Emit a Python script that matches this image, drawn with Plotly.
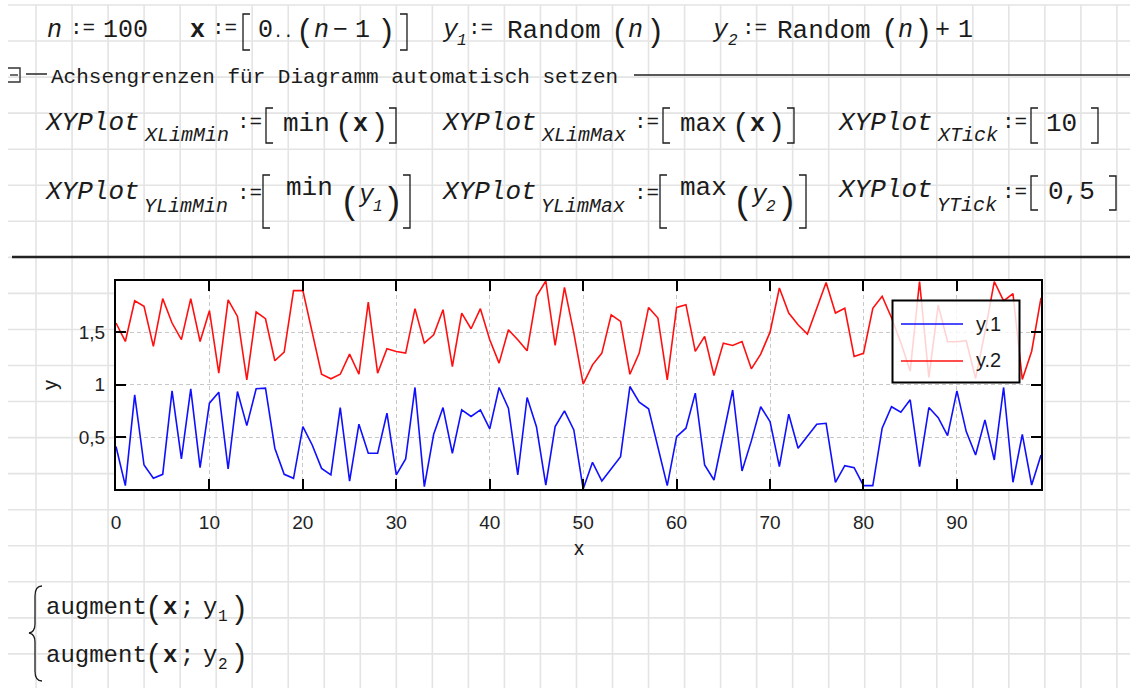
import plotly.graph_objects as go

# ---------------- data ----------------
x_vals = list(range(100))
y1_vals = [0.41, 0.037, 0.903, 0.234, 0.107, 0.145, 0.942, 0.292, 0.961, 0.209,
           0.824, 0.929, 0.196, 0.935, 0.61, 0.961, 0.967, 0.394, 0.145, 0.107,
           0.60, 0.425, 0.202, 0.139, 0.782, 0.081, 0.623, 0.346, 0.346, 0.728,
           0.139, 0.292, 0.974, 0.027, 0.527, 0.782, 0.346, 0.76, 0.697, 0.76,
           0.579, 0.974, 0.776, 0.139, 0.878, 0.60, 0.043, 0.60, 0.75, 0.569,
           0.005, 0.26, 0.081, 0.202, 0.314, 0.983, 0.834, 0.77, 0.394, 0.037,
           0.505, 0.585, 0.92, 0.234, 0.091, 0.52, 0.95, 0.177, 0.464, 0.79,
           0.648, 0.218, 0.719, 0.394, 0.505, 0.623, 0.632, 0.069, 0.228, 0.209,
           0.037, 0.037, 0.585, 0.79, 0.738, 0.856, 0.218, 0.782, 0.686, 0.514,
           0.942, 0.553, 0.33, 0.665, 0.282, 0.974, 0.069, 0.527, 0.043, 0.33]
y2_vals = [1.589, 1.413, 1.802, 1.748, 1.366, 1.822, 1.589, 1.43, 1.822, 1.413,
           1.707, 1.11, 1.81, 1.652, 1.047, 1.694, 1.63, 1.229, 1.311, 1.898,
           1.898, 1.5, 1.10, 1.057, 1.10, 1.292, 1.10, 1.789, 1.11, 1.343,
           1.318, 1.302, 1.726, 1.397, 1.477, 1.716, 1.174, 1.684, 1.534, 1.726,
           1.429, 1.206, 1.525, 1.429, 1.324, 1.844, 1.99, 1.375, 1.93, 1.493,
           1.005, 1.19, 1.302, 1.668, 1.605, 1.10, 1.302, 1.738, 1.636, 1.047,
           1.738, 1.764, 1.318, 1.461, 1.088, 1.397, 1.375, 1.413, 1.152, 1.292,
           1.502, 1.923, 1.684, 1.573, 1.483, 1.73, 1.975, 1.684, 1.73, 1.27,
           1.30, 1.73, 1.845, 1.64, 1.40, 1.13, 1.985, 1.07, 1.76, 1.41,
           1.41, 1.42, 1.06, 1.5, 1.985, 1.80, 1.87, 1.05, 1.32, 1.83]
series_names = ["y.1", "y.2"]
x_tick_vals = [0, 10, 20, 30, 40, 50, 60, 70, 80, 90]
x_tick_labels = ["0", "10", "20", "30", "40", "50", "60", "70", "80", "90"]
y_tick_vals = [0.5, 1.0, 1.5]
y_tick_labels = ["0,5", "1", "1,5"]

# ---------------- geometry helpers (pixel -> paper) ----------------
FW, FH = 1130, 688
L, R, T, B = 116, 1041, 281, 489
W, H = R - L, B - T


def px(x):
    return (x - L) / W


def py(y):
    return (B - y) / H


MONO = "Liberation Mono, Courier New, monospace"
SANS = "Liberation Sans, Arial, sans-serif"
TXT = "#1b1b1b"
annotations = []
shapes = []


def txt(x, y, s, size=25, it=False, bd=False, fam=MONO, color=TXT, anchor="left", angle=0):
    if it:
        s = f"<i>{s}</i>"
    if bd:
        s = f"<b>{s}</b>"
    annotations.append(dict(x=px(x), y=py(y), xref="paper", yref="paper", text=s,
                            showarrow=False, xanchor=anchor, yanchor="middle",
                            textangle=angle, borderpad=0,
                            font=dict(family=fam, size=size, color=color)))


def path(points_cmds, color, width, layer="below", fill=None):
    s = " ".join(points_cmds)
    d = dict(type="path", path=s, xref="paper", yref="paper",
             line=dict(color=color, width=width), layer=layer)
    if fill:
        d["fillcolor"] = fill
    shapes.append(d)


def P(cmd, x, y):
    return f"{cmd} {px(x):.5f},{py(y):.5f}"


def C(x, y):
    return f"{px(x):.5f},{py(y):.5f}"


def line(x0, y0, x1, y1, color=TXT, width=1.3, layer="below"):
    path([P("M", x0, y0), P("L", x1, y1)], color, width, layer)


def lbr(x, y0, y1):
    path([P("M", x + 7, y0), P("L", x, y0), P("L", x, y1), P("L", x + 7, y1)], TXT, 1.3)


def rbr(x, y0, y1):
    path([P("M", x - 7, y0), P("L", x, y0), P("L", x, y1), P("L", x - 7, y1)], TXT, 1.3)


# ---------------- worksheet grid ----------------
grid_cmds = []
k = 1
while 36.03 * k < FW:
    gx = 36.03 * k
    grid_cmds += [P("M", gx, 5), P("L", gx, FH)]
    k += 1
k = 0
while 5 + 36.05 * k < FH:
    gy = 5 + 36.05 * k
    grid_cmds += [P("M", 8, gy), P("L", FW, gy)]
    k += 1
path(grid_cmds, "#e4e4e4", 1.6)
# white plot background over the grid
shapes.append(dict(type="rect", xref="paper", yref="paper", x0=0, x1=1, y0=0, y1=1,
                   fillcolor="white", line=dict(width=0), layer="below"))

# separators
line(634, 75, FW, 75, color="#222", width=1.6)
line(12, 257, FW, 257, color="#222", width=2.4)
# collapse icon
path([P("M", 8, 68), P("L", 20, 68), P("L", 20, 82), P("L", 8, 82)], "#333", 1.4)
line(10, 75, 18, 75, color="#333", width=1.4)
line(26, 74, 47, 74, color="#333", width=1.6)

# ---------------- worksheet text ----------------
# row 1
txt(46, 31, "n", 25, it=True)
txt(69, 29, ":=", 21)
txt(102, 31, "100", 25)
txt(189, 31, "x", 25, bd=True)
txt(211, 29, ":=", 21)
lbr(243, 14, 50)
txt(257, 31, "0", 25)
txt(272, 33, "..", 17)
txt(298, 31, "(", 31, fam=SANS)
txt(313, 31, "n", 25, it=True)
txt(332, 31, "−", 25)
txt(354, 31, "1", 25)
txt(381, 31, ")", 31, fam=SANS)
rbr(407, 14, 50)
txt(441, 31, "y", 25, it=True)
txt(456, 41, "1", 16, it=True)
txt(467, 29, ":=", 21)
txt(506, 31, "Random", 26)
txt(613, 31, "(", 31, fam=SANS)
txt(627, 31, "n", 25, it=True)
txt(650, 31, ")", 31, fam=SANS)
txt(711, 31, "y", 25, it=True)
txt(727, 41, "2", 16, it=True)
txt(741, 29, ":=", 21)
txt(776, 31, "Random", 26)
txt(883, 31, "(", 31, fam=SANS)
txt(897, 31, "n", 25, it=True)
txt(918, 31, ")", 31, fam=SANS)
txt(934, 31, "+", 25)
txt(957, 31, "1", 25)

# row 2
txt(50, 77, "Achsengrenzen für Diagramm automatisch setzen", 21)


def xyplot(x, y, sub, ysub):
    txt(x, y, "XYPlot", 26, it=True)
    txt(x + 99, ysub, sub, 20, it=True)


# row 3
xyplot(44, 123, "XLimMin", 135)
txt(236, 122, ":=", 21)
lbr(266, 108, 143)
txt(282, 124, "min", 26)
txt(337, 124, "(", 31, fam=SANS)
txt(352, 124, "x", 25, bd=True)
txt(374, 124, ")", 31, fam=SANS)
rbr(396, 108, 143)

xyplot(441, 123, "XLimMax", 135)
txt(633, 122, ":=", 21)
lbr(663, 108, 143)
txt(679, 124, "max", 26)
txt(734, 124, "(", 31, fam=SANS)
txt(749, 124, "x", 25, bd=True)
txt(771, 124, ")", 31, fam=SANS)
rbr(794, 108, 143)

xyplot(837, 123, "XTick", 135)
txt(1001, 122, ":=", 21)
lbr(1031, 108, 143)
txt(1045, 124, "10", 26)
rbr(1098, 108, 143)

# row 4
xyplot(44, 192, "YLimMin", 206)
txt(236, 193, ":=", 21)
lbr(263, 175, 228)
txt(285, 188, "min", 26)
txt(342, 200, "(", 36, fam=SANS)
txt(357, 196, "y", 25, it=True)
txt(372, 207, "1", 16, it=True)
txt(387, 200, ")", 36, fam=SANS)
rbr(410, 175, 228)

xyplot(441, 192, "YLimMax", 206)
txt(633, 193, ":=", 21)
lbr(660, 175, 228)
txt(679, 188, "max", 26)
txt(735, 200, "(", 36, fam=SANS)
txt(750, 196, "y", 25, it=True)
txt(765, 207, "2", 16, it=True)
txt(781, 200, ")", 36, fam=SANS)
rbr(806, 175, 228)

xyplot(837, 190, "YTick", 205)
txt(1001, 192, ":=", 21)
lbr(1031, 176, 210)
txt(1047, 192, "0,5", 26)
rbr(1116, 176, 210)

# bottom: augment block
path([P("M", 42, 586), P("Q", 35, 586), C(35, 596),
      P("L", 35, 624), P("Q", 35, 632), C(29, 633),
      P("Q", 35, 634), C(35, 642),
      P("L", 35, 671), P("Q", 35, 681), C(42, 681)], TXT, 1.3)
for yy, sub in ((607, "1"), (655, "2")):
    txt(45, yy, "augment", 24)
    txt(147, yy, "(", 31, fam=SANS)
    txt(162, yy, "x", 24, bd=True)
    txt(179, yy, ";", 24)
    txt(202, yy, "y", 24)
    txt(217, yy + 10, sub, 16)
    txt(234, yy, ")", 31, fam=SANS)

# axis titles
txt(50, 385, "y", 20, fam=SANS, anchor="center", angle=-90)
txt(578.5, 548, "x", 20, fam=SANS, anchor="center")

# ---------------- manual legend ----------------
shapes.append(dict(type="rect", xref="paper", yref="paper",
                   x0=px(892.5), x1=px(1019.5), y0=py(382.5), y1=py(300.5),
                   fillcolor="rgba(255,255,255,0.82)",
                   line=dict(color="black", width=2), layer="above"))
line(901, 324, 963, 324, color="#1010ff", width=1.6, layer="above")
line(901, 361, 963, 361, color="#ff1010", width=1.6, layer="above")
txt(975, 324, series_names[0], 20, fam=SANS)
txt(975, 360, series_names[1], 20, fam=SANS)

# ---------------- figure ----------------
fig = go.Figure()
fig.add_trace(go.Scatter(x=x_vals, y=y1_vals, mode="lines", name=series_names[0],
                         line=dict(color="#1010ff", width=1.6)))
fig.add_trace(go.Scatter(x=x_vals, y=y2_vals, mode="lines", name=series_names[1],
                         line=dict(color="#ff1010", width=1.6)))

axis_common = dict(showgrid=True, gridcolor="#c8c8c8", gridwidth=1, griddash="4px,3px",
                   ticks="inside", ticklen=10, tickwidth=2, tickcolor="black",
                   showline=True, linecolor="black", linewidth=2, mirror="ticks",
                   zeroline=False, tickfont=dict(family=SANS, size=19, color="#222"),
                   fixedrange=True)
fig.update_xaxes(range=[min(x_vals), max(x_vals)], tickvals=x_tick_vals,
                 ticktext=x_tick_labels, ticklabelstandoff=15, **axis_common)
fig.update_yaxes(range=[min(y1_vals), max(y2_vals)], tickvals=y_tick_vals,
                 ticktext=y_tick_labels, ticklabelstandoff=5, **axis_common)

fig.update_layout(width=FW, height=FH, margin=dict(l=L, r=FW - R, t=T, b=FH - B, pad=0),
                  paper_bgcolor="white", plot_bgcolor="white", showlegend=False,
                  separators=",.", annotations=annotations, shapes=shapes,
                  font=dict(family=SANS, color="#222"))

fig.write_html("out.html", config={"displayModeBar": False},
               post_script="document.body.style.margin='0';")
